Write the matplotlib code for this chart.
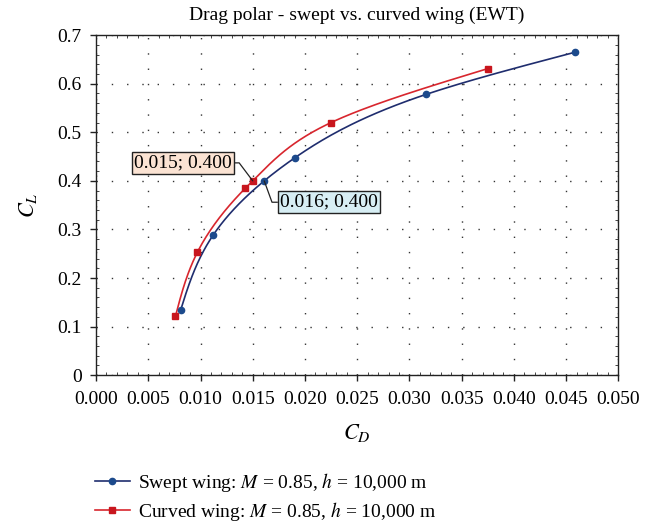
import numpy as np
import matplotlib
matplotlib.use("Agg")
import matplotlib.pyplot as plt
from matplotlib.ticker import MultipleLocator, FormatStrFormatter

plt.rcParams.update({
    "font.family": ["Liberation Serif", "DejaVu Serif"],
    "mathtext.fontset": "stix",
    "font.size": 12,
})

# data
swept_cd = [0.0081, 0.0112, 0.0161, 0.0190, 0.0316, 0.0459]
swept_cl = [0.134, 0.288, 0.400, 0.447, 0.578, 0.665]
curved_cd = [0.0076, 0.0097, 0.0143, 0.0150, 0.0225, 0.0375]
curved_cl = [0.121, 0.253, 0.385, 0.400, 0.520, 0.631]

swept_label = "Swept wing: $M$ = 0.85, $h$ = 10,000 m"
curved_label = "Curved wing: $M$ = 0.85, $h$ = 10,000 m"

SWEPT_LINE = "#1f2d6e"
SWEPT_MARK = "#1c4a8c"
CURVED_LINE = "#d8262e"
CURVED_MARK = "#c8161e"


def natural_spline(t, v, n=200):
    # natural cubic spline of v(t), used for the smoothed curve only
    t = np.asarray(t, float)
    v = np.asarray(v, float)
    k = len(t)
    h = np.diff(t)
    A = np.zeros((k, k))
    rhs = np.zeros(k)
    A[0, 0] = A[-1, -1] = 1.0
    for i in range(1, k - 1):
        A[i, i - 1] = h[i - 1]
        A[i, i] = 2 * (h[i - 1] + h[i])
        A[i, i + 1] = h[i]
        rhs[i] = 6 * ((v[i + 1] - v[i]) / h[i] - (v[i] - v[i - 1]) / h[i - 1])
    M = np.linalg.solve(A, rhs)
    tt = np.linspace(t[0], t[-1], n)
    idx = np.clip(np.searchsorted(t, tt) - 1, 0, k - 2)
    hi = h[idx]
    a = t[idx + 1] - tt
    b = tt - t[idx]
    vv = (M[idx] * a ** 3 / (6 * hi) + M[idx + 1] * b ** 3 / (6 * hi)
          + (v[idx] / hi - M[idx] * hi / 6) * a
          + (v[idx + 1] / hi - M[idx + 1] * hi / 6) * b)
    return tt, vv


fig = plt.figure(figsize=(6.67, 5.24), dpi=100)
ax = fig.add_axes([0.144, 0.284, 0.783, 0.649])

for cd, cl, lc, mc, mk, ms, lab in [
    (swept_cd, swept_cl, SWEPT_LINE, SWEPT_MARK, "o", 4.5, swept_label),
    (curved_cd, curved_cl, CURVED_LINE, CURVED_MARK, "s", 5, curved_label),
]:
    yy, xx = natural_spline(cl, cd)
    ax.plot(xx, yy, color=lc, lw=1.2, zorder=3)
    ax.plot(cd, cl, ls="none", marker=mk, ms=ms, color=mc, zorder=4)
    # legend handle
    ax.plot([], [], color=lc, lw=1.2, marker=mk, ms=ms, mfc=mc, mec=mc, label=lab)

ax.set_xlim(0, 0.05)
ax.set_ylim(0, 0.7)
ax.xaxis.set_major_locator(MultipleLocator(0.005))
ax.xaxis.set_minor_locator(MultipleLocator(0.001))
ax.yaxis.set_major_locator(MultipleLocator(0.1))
ax.yaxis.set_minor_locator(MultipleLocator(0.02))
ax.xaxis.set_major_formatter(FormatStrFormatter("%.3f"))
ax.yaxis.set_major_formatter(plt.FuncFormatter(lambda v, p: "0" if abs(v) < 1e-9 else f"{v:.1f}"))
ax.tick_params(which="major", direction="out", length=4.3, width=1, color="#222222")
ax.tick_params(axis="x", which="major", labelsize=14, pad=7)
ax.tick_params(axis="y", which="major", labelsize=14, pad=6)
ax.tick_params(which="minor", direction="in", length=2.5, width=0.7, top=True, right=True, color="#444444")
ax.grid(True, which="major", color="#333333", ls=(0, (1, 10)), lw=1.0)
for s in ax.spines.values():
    s.set_color("#222222")
    s.set_linewidth(1.0)

ax.set_title("Drag polar - swept vs. curved wing (EWT)", fontsize=14, pad=11)
ax.set_xlabel("$C_D$", fontsize=16, labelpad=10)
ax.set_ylabel("$C_L$", fontsize=16, labelpad=13)

# data labels on the CL = 0.4 points
ax.annotate(f"{curved_cd[3]:.3f}; {curved_cl[3]:.3f}", xy=(curved_cd[3], curved_cl[3]),
            xytext=(0.00834, 0.437), ha="center", va="center", fontsize=14,
            bbox=dict(boxstyle="square,pad=0.12", fc="#fbe3d3", ec="#222222", lw=1.0),
            arrowprops=dict(arrowstyle="-", color="#222222", lw=0.9, shrinkA=0, shrinkB=0,
                            relpos=(1, 0.5),
                            connectionstyle="angle,angleA=0,angleB=127,rad=0"),
            zorder=5)
ax.annotate(f"{swept_cd[2]:.3f}; {swept_cl[2]:.3f}", xy=(swept_cd[2], swept_cl[2]),
            xytext=(0.02232, 0.356), ha="center", va="center", fontsize=14,
            bbox=dict(boxstyle="square,pad=0.12", fc="#d7eef4", ec="#222222", lw=1.0),
            arrowprops=dict(arrowstyle="-", color="#222222", lw=0.9, shrinkA=0, shrinkB=0,
                            relpos=(0, 0.5),
                            connectionstyle="angle,angleA=0,angleB=110,rad=0"),
            zorder=5)

fig.legend(loc="upper left", bbox_to_anchor=(0.142, 0.101), frameon=False, fontsize=14,
           handlelength=1.8, handletextpad=0.45, labelspacing=0.3, borderpad=0,
           borderaxespad=0)

fig.savefig("out.png", dpi=100, facecolor="white")
